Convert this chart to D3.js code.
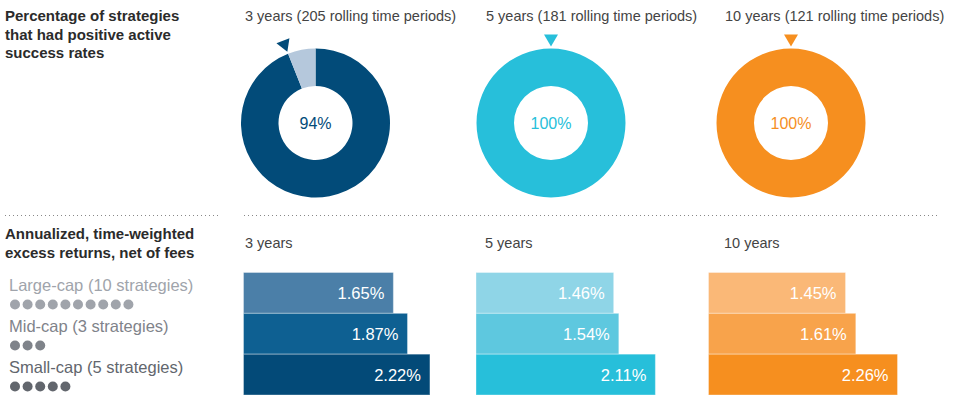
<!DOCTYPE html>
<html>
<head>
<meta charset="utf-8">
<script src="https://cdn.jsdelivr.net/npm/d3@7/dist/d3.min.js"></script>
<style>
  html, body { margin: 0; padding: 0; background: #fff; }
  svg { display: block; font-family: "Liberation Sans", Arial, Helvetica, sans-serif; }
</style>
</head>
<body>
<svg id="chart" width="960" height="396"></svg>
<script>
// ---------------- data ----------------
const periods = ["3 years", "5 years", "10 years"];
const rollingPeriods = [205, 181, 121];
const successRates = [94, 100, 100];
const capGroups = ["Large-cap", "Mid-cap", "Small-cap"];
const strategyCounts = [10, 3, 5];
const returns3y = [1.65, 1.87, 2.22];
const returns5y = [1.46, 1.54, 2.11];
const returns10y = [1.45, 1.61, 2.26];
const topHeading = ["Percentage of strategies", "that had positive active", "success rates"];
const bottomHeading = ["Annualized, time-weighted", "excess returns, net of fees"];

// ---------------- layout / style ----------------
const W = 960, H = 396;
const panelTextX = [245, 486, 725];
const donutCX = [315.5, 551, 791];
const donutCY = 123;
const outerR = 74.5, innerR = 37;
const barLeft = [243.5, 476, 708.5];
const donutColors = ["#024b79", "#27bfda", "#f68f1f"];
const restColors = ["#b5c8dc", "#bfe9f3", "#fcd3a8"];
const barColors = [
  ["#4b7fa8", "#0e6092", "#034a78"],
  ["#8fd5e7", "#5ec8df", "#27bfda"],
  ["#fab877", "#f8a34b", "#f68f1f"]
];
const legendColors = ["#a0a4ab", "#7f838a", "#62666d"];
const allReturns = [returns3y, returns5y, returns10y];

const svg = d3.select("#chart");

// ---------- top heading ----------
const th = svg.append("text").attr("x", 5).attr("y", 21)
  .attr("font-size", 15).attr("font-weight", "bold").attr("fill", "#2b2b2b");
topHeading.forEach((t, i) => th.append("tspan").attr("x", 5).attr("dy", i === 0 ? 0 : 18.5).text(t));

// ---------- donuts ----------
const pie = d3.pie().sort(null).value(d => d);
const arc = d3.arc().innerRadius(innerR).outerRadius(outerR);

periods.forEach((p, i) => {
  svg.append("text").attr("x", panelTextX[i]).attr("y", 21)
    .attr("font-size", 14.5).attr("fill", "#444")
    .text(`${p} (${rollingPeriods[i]} rolling time periods)`);

  const g = svg.append("g").attr("transform", `translate(${donutCX[i]},${donutCY})`);
  const slices = pie([successRates[i], 100 - successRates[i]]);
  g.selectAll("path.slice").data(slices).join("path")
    .attr("class", "slice")
    .attr("d", arc)
    .attr("fill", (d, j) => j === 0 ? donutColors[i] : restColors[i]);

  // marker triangle at the end of the success arc
  const ang = slices[0].endAngle * 180 / Math.PI;
  g.append("path")
    .attr("d", `M-7,${-outerR - 14}L7,${-outerR - 14}L0,${-outerR - 2}Z`)
    .attr("fill", donutColors[i])
    .attr("transform", `rotate(${ang})`);

  g.append("text").attr("text-anchor", "middle").attr("dy", "0.36em")
    .attr("font-size", 16).attr("fill", donutColors[i])
    .text(successRates[i] + "%");
});

// ---------- dotted separators ----------
svg.append("line").attr("x1", 5).attr("x2", 219).attr("y1", 215.5).attr("y2", 215.5)
  .attr("stroke", "#888").attr("stroke-width", 1).attr("stroke-dasharray", "1,3");
svg.append("line").attr("x1", 244).attr("x2", 940).attr("y1", 215.5).attr("y2", 215.5)
  .attr("stroke", "#888").attr("stroke-width", 1).attr("stroke-dasharray", "1,3");

// ---------- bottom heading ----------
const bh = svg.append("text").attr("x", 5).attr("y", 239)
  .attr("font-size", 15).attr("font-weight", "bold").attr("fill", "#2b2b2b");
bottomHeading.forEach((t, i) => bh.append("tspan").attr("x", 5).attr("dy", i === 0 ? 0 : 18.5).text(t));

// ---------- legend ----------
const legendY = [291, 332, 373];
capGroups.forEach((c, i) => {
  svg.append("text").attr("x", 9).attr("y", legendY[i])
    .attr("font-size", 16.5).attr("fill", legendColors[i])
    .text(`${c} (${strategyCounts[i]} strategies)`);
  svg.append("g").selectAll("circle").data(d3.range(strategyCounts[i])).join("circle")
    .attr("cx", k => 15 + k * 12.6)
    .attr("cy", legendY[i] + 13.5)
    .attr("r", 5)
    .attr("fill", legendColors[i]);
});

// ---------- bars ----------
const xW = d3.scaleLinear().domain([0, 2.26]).range([44, 189]);
const yB = d3.scaleBand().domain(capGroups).range([272.5, 395]).paddingInner(0);

periods.forEach((p, i) => {
  svg.append("text").attr("x", panelTextX[i] - (i === 0 ? 0 : 1)).attr("y", 248)
    .attr("font-size", 14.5).attr("fill", "#444").text(p);

  const g = svg.append("g").attr("transform", `translate(${barLeft[i]},0)`);
  const vals = allReturns[i];
  g.selectAll("rect").data(vals).join("rect")
    .attr("x", 0)
    .attr("y", (d, j) => yB(capGroups[j]))
    .attr("width", d => xW(d))
    .attr("height", yB.bandwidth())
    .attr("fill", (d, j) => barColors[i][j])
    .attr("stroke", "rgba(255,255,255,0.35)")
    .attr("stroke-width", 1);
  g.selectAll("text.val").data(vals).join("text")
    .attr("class", "val")
    .attr("x", d => xW(d) - 9)
    .attr("y", (d, j) => yB(capGroups[j]) + yB.bandwidth() / 2)
    .attr("dy", "0.36em")
    .attr("text-anchor", "end")
    .attr("font-size", 16.5)
    .attr("fill", "#fff")
    .text(d => d.toFixed(2) + "%");
});
</script>
</body>
</html>
